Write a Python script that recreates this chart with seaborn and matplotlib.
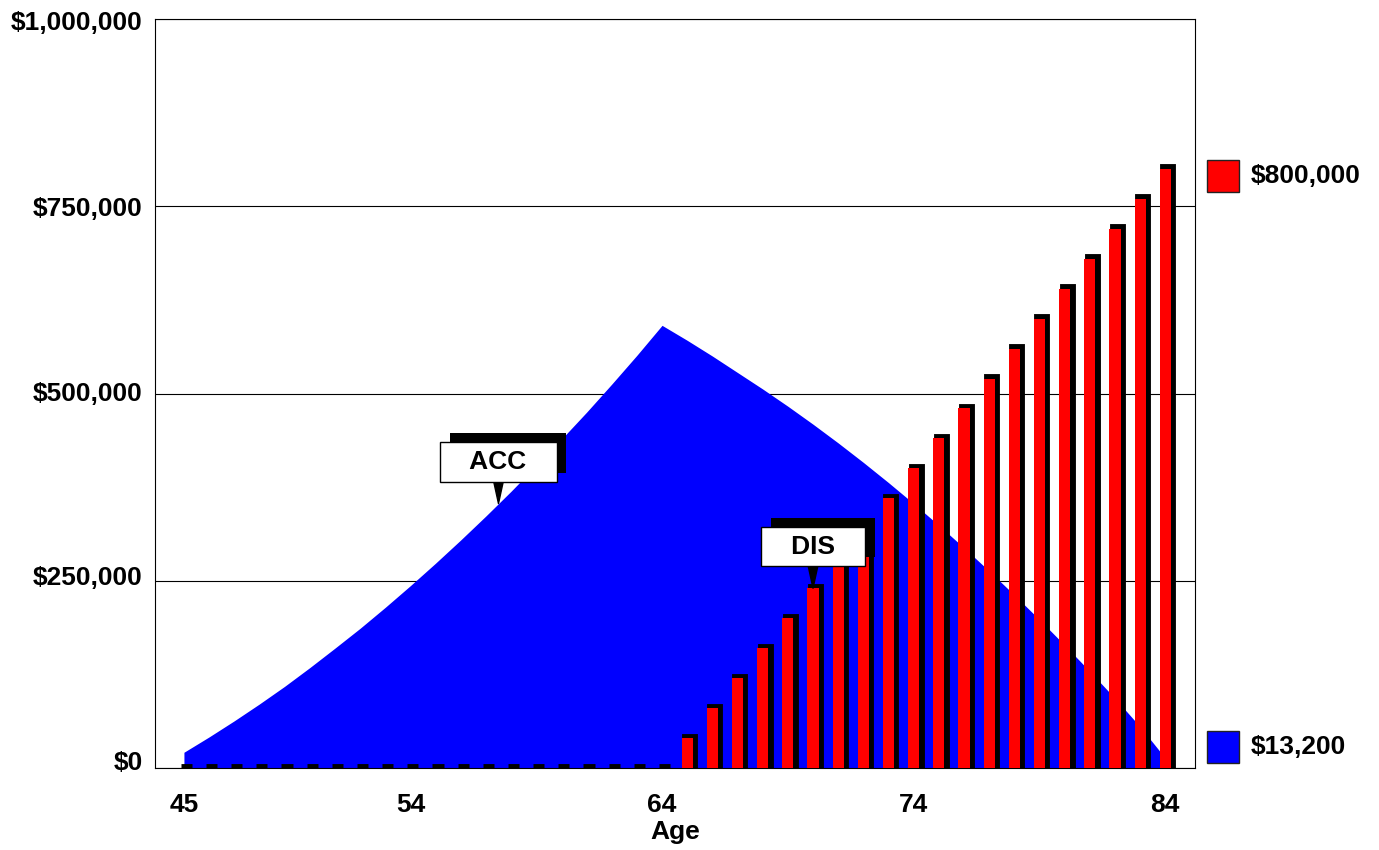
import numpy as np
import pandas as pd
import matplotlib
matplotlib.use("Agg")
import matplotlib.pyplot as plt
import seaborn as sns
from matplotlib import transforms, patheffects
from matplotlib.ticker import FuncFormatter

# ages shown on the x axis (one bar / area point per year)
ages = [45, 46, 47, 48, 49, 50, 51, 52, 53, 54,
        55, 56, 57, 58, 59, 60, 61, 62, 63, 64,
        65, 66, 67, 68, 69, 70, 71, 72, 73, 74,
        75, 76, 77, 78, 79, 80, 81, 82, 83, 84]

# accumulation balance (blue area)
accumulation = [21000, 41500, 63000, 85500, 109000, 134000, 160000, 186500, 214500, 243500,
                273500, 304500, 336500, 369500, 404000, 439000, 475000, 512500, 551000, 591000,
                571000, 550000, 528000, 506000, 483000, 459000, 434000, 408000, 381000, 353000,
                324000, 294000, 263000, 231000, 198000, 164000, 129000, 93000, 55000, 13200]

# cumulative distributions (red bars)
distribution = [0, 0, 0, 0, 0, 0, 0, 0, 0, 0,
                0, 0, 0, 0, 0, 0, 0, 0, 0, 0,
                40000, 80000, 120000, 160000, 200000, 240000, 280000, 320000, 360000, 400000,
                440000, 480000, 520000, 560000, 600000, 640000, 680000, 720000, 760000, 800000]

tick_ages = [45, 54, 64, 74, 84]
y_ticks = [0, 250000, 500000, 750000, 1000000]

BLUE = "#0000ff"
RED = "#ff0000"
FS = 19

sns.set_style("white")
plt.rcParams["font.family"] = ["Liberation Sans", "DejaVu Sans"]
plt.rcParams["font.weight"] = "bold"
for key in ["text.color", "axes.labelcolor", "xtick.color", "ytick.color"]:
    plt.rcParams[key] = "black"

df = pd.DataFrame({"age": ages, "accumulation": accumulation, "distribution": distribution})

fig = plt.figure(figsize=(13.79, 8.5), dpi=100)
ax = fig.add_axes([155 / 1379, 82 / 850, 1040 / 1379, 749 / 850])

# black "3D" shadow behind each bar: thick edge + small shift up/right
sns.barplot(data=df, x="age", y="distribution", color="black", width=0.44, saturation=1,
            edgecolor="black", linewidth=3.5, errorbar=None, ax=ax, zorder=2)
shift = transforms.ScaledTranslation(1.75 / 72, 1.75 / 72, fig.dpi_scale_trans)
for p in list(ax.patches):
    p.set_transform(ax.transData + shift)

sns.barplot(data=df, x="age", y="distribution", color=RED, width=0.44, saturation=1,
            linewidth=0, errorbar=None, ax=ax, zorder=3)

pos = np.arange(len(ages))
ax.fill_between(pos, df["accumulation"], color=BLUE, lw=0, zorder=1)

ax.set_xlim(-1.15, len(ages) - 1 + 1.18)
ax.set_ylim(y_ticks[0], y_ticks[-1])
ax.set_yticks(y_ticks)
ax.yaxis.set_major_formatter(FuncFormatter(lambda v, _: f"${v:,.0f}"))
ax.set_xticks([ages.index(a) for a in tick_ages])
ax.set_xticklabels([str(a) for a in tick_ages])

ax.yaxis.grid(True, color="black", lw=0.8)
ax.xaxis.grid(False)
ax.set_axisbelow(True)
for s in ax.spines.values():
    s.set_visible(True)
    s.set_color("black")
    s.set_linewidth(0.8)

ax.tick_params(axis="both", length=0, labelsize=FS, colors="black")
ax.tick_params(axis="x", pad=18)
ax.tick_params(axis="y", pad=9)
ax.set_xlabel("Age", fontsize=FS, fontweight="bold", labelpad=2, color="black")
ax.set_ylabel("")

# the lower value labels sit a little above their lines in the original
for tick, up in zip(ax.yaxis.get_major_ticks(), [8, 5, 2, 0, -2]):
    lab = tick.label1
    lab.set_transform(lab.get_transform() +
                      transforms.ScaledTranslation(0, up / 100, fig.dpi_scale_trans))


def callout(text, xy):
    ann = ax.annotate(f"   {text}   ", xy=xy, xytext=(0, 30), textcoords="offset points",
                      ha="center", va="center", fontsize=FS, fontweight="bold", zorder=6,
                      color="black",
                      bbox=dict(boxstyle="square,pad=0.3", fc="white", ec="black", lw=1),
                      arrowprops=dict(arrowstyle="wedge,tail_width=0.35", fc="black",
                                      ec="black", shrinkA=0, shrinkB=0))
    ann.get_bbox_patch().set_path_effects([
        patheffects.SimplePatchShadow(offset=(7, 6.5), shadow_rgbFace="black", alpha=1),
        patheffects.Normal(),
    ])


i57 = ages.index(57)
callout("ACC", (i57 + 0.5, (accumulation[i57] + accumulation[i57 + 1]) / 2))
i70 = ages.index(70)
callout("DIS", (i70, distribution[i70]))

# end-value keys on the right
blend = transforms.blended_transform_factory(ax.transAxes, ax.transData)
for val, col, dy in [(distribution[-1], RED, -5), (accumulation[-1], BLUE, 8)]:
    tr = blend + transforms.ScaledTranslation(0, dy / 72, fig.dpi_scale_trans)
    ax.plot([1.027], [val], marker="s", ms=23.5, color=col, mec="#222222", mew=1,
            transform=tr, clip_on=False)
    ax.text(1.054, val, f"${val:,.0f}", transform=tr, va="center", ha="left",
            fontsize=FS, fontweight="bold", color="black")

fig.savefig("out.png", dpi=100)
